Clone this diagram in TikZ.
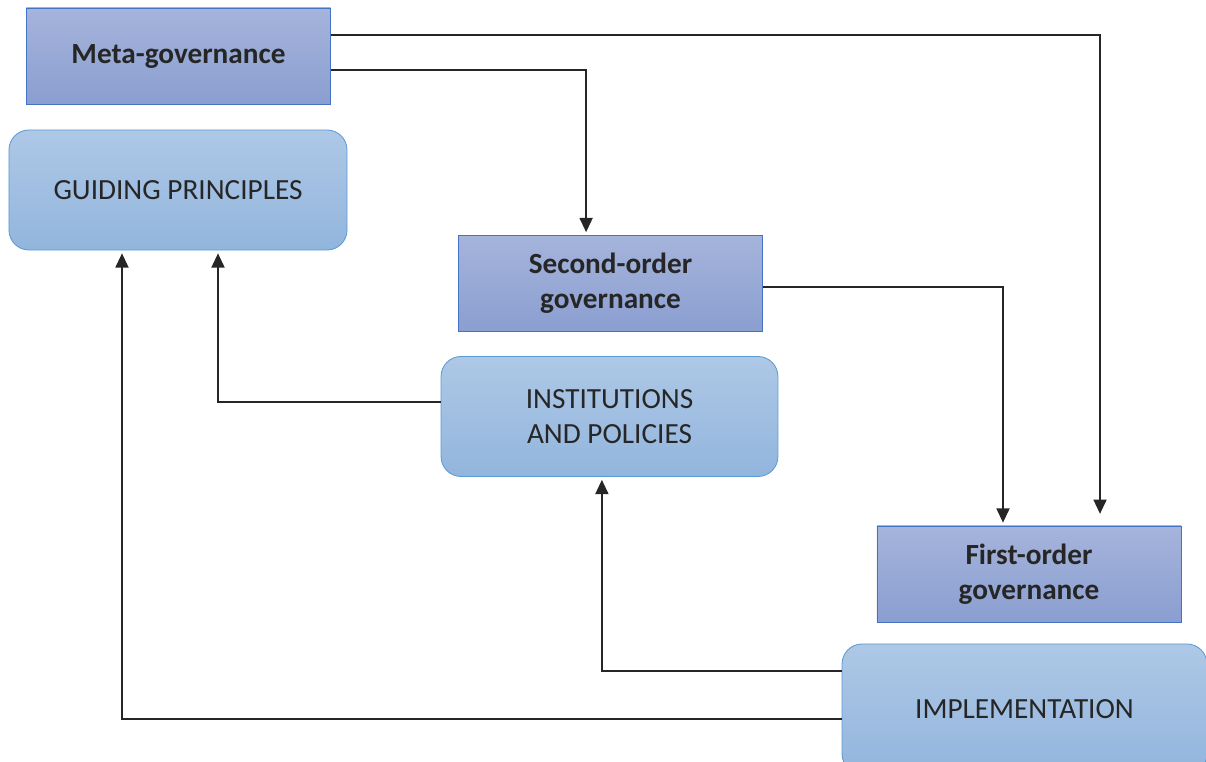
\documentclass[tikz,border=0pt]{standalone}
\usepackage{fontspec}
\setmainfont{Carlito}
\usepackage{xcolor}
\usetikzlibrary{positioning}
\usetikzlibrary{arrows.meta}

\definecolor{govtop}{HTML}{A5B4DB}
\definecolor{govbot}{HTML}{8A9ED0}
\definecolor{govline}{HTML}{4472C4}
\definecolor{acttop}{HTML}{AEC8E6}
\definecolor{actbot}{HTML}{92B5DD}
\definecolor{actline}{HTML}{5B9BD5}

\begin{document}
\begin{tikzpicture}
  [
    x=0.025cm, y=-0.025cm,
    gov/.style={
      draw=govline,
      top color=govtop,
      bottom color=govbot,
      line width=0.6pt,
      minimum width=7.6cm,
      minimum height=2.4cm,
      align=center,
      text=black!85,
      font=\fontsize{20.8}{25}\selectfont\bfseries
    },
    act/.style={
      draw=actline,
      top color=acttop,
      bottom color=actbot,
      line width=0.6pt,
      rounded corners=0.5cm,
      minimum height=3cm,
      align=center,
      text=black!85,
      font=\fontsize{20.8}{25}\selectfont
    },
    ld/.style={draw=black!85,line width=1.8pt,shorten >=2pt,
      -{Triangle[length=3.6mm,width=3.2mm]}}
  ]
  \useasboundingbox (0,0) rectangle (1206,762);

  \node (meta)   at (178.5,56)  [gov] {Meta-governance};
  \node (guide)  at (178,190)   [act, minimum width=8.45cm] {GUIDING PRINCIPLES};
  \node (second) at (610.5,283.5) [gov] {Second-order\\governance};
  \node (inst)   at (609.5,416.5) [act, minimum width=8.42cm] {INSTITUTIONS\\AND POLICIES};
  \node (first)  at (1029,574)  [gov] {First-order\\governance};
  \node (impl)   at (1024.5,709) [act, minimum width=9.12cm, minimum height=3.25cm] {IMPLEMENTATION};

  \draw [ld] ([yshift=0.525cm]meta.east) -| ([xshift=1.775cm,yshift=0.22cm]first.north);
  \draw [ld] ([yshift=-0.35cm]meta.east) -| ([xshift=-0.61cm]second.north);
  \draw [ld] ([yshift=-0.09cm]second.east) -| ([xshift=-0.65cm]first.north);
  \draw [ld] ([yshift=0.36cm]inst.west) -| ([xshift=1cm]guide.south);
  \draw [ld] ([yshift=0.95cm]impl.west) -| ([xshift=-0.19cm]inst.south);
  \draw [ld] ([yshift=-0.25cm]impl.west) -| ([xshift=-1.4cm]guide.south);
\end{tikzpicture}
\end{document}
